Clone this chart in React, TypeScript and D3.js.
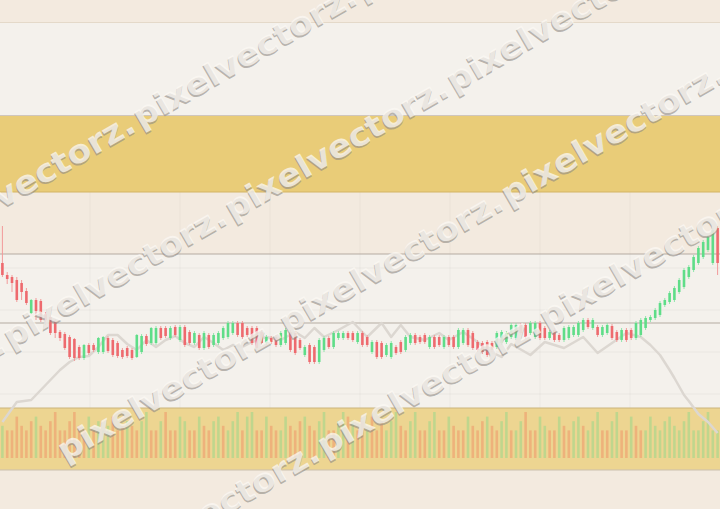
import React from "react";
import * as d3 from "d3";

// ---- candle data (price units) ----
const openP = [
  88.5, 82.5, 81.5, 80, 78.5, 74.5, 63.5, 70, 69.5, 63,
  61.5, 59.5, 54, 53, 51.5, 50.5, 46.5, 41, 47.5, 47.5,
  44, 44, 51, 50, 48.5, 45, 46, 45, 41.5, 44,
  52, 48.5, 48.5, 56, 56, 51, 56.5, 50, 56.5, 54,
  48.5, 52.5, 46, 52.5, 47.5, 48.5, 51, 51.5, 53.5, 58.5,
  58.5, 56, 56, 56, 54, 48.5, 51, 51.5, 47.5, 48.5,
  54, 53.5, 50, 42.5, 47.5, 46.5, 39, 45, 51, 46.5,
  51, 51, 53.5, 53.5, 49, 53.5, 51.5, 44, 49, 48.5,
  42.5, 41.5, 46.5, 49, 45, 48.5, 52.5, 51.5, 52.5, 46.5,
  51.5, 51.5, 46.5, 51.5, 51.5, 46.5, 48.5, 55, 53.5, 49,
  48.5, 49, 48.5, 46.5, 48.5, 49, 51.5, 51, 57.5, 57.5,
  53.5, 51.5, 58.5, 56, 51, 55, 52.5, 50, 51, 52.5,
  52.5, 55, 60, 56, 56.5, 52.5, 53.5, 57, 54, 50,
  55, 55, 51, 52.5, 56, 60, 61, 62.5, 67.5, 69,
  70, 74, 76.5, 81.5, 85, 88.5, 91.5, 95, 88.5, 106,
];
const closeP = [
  82.5, 80.5, 78.5, 70, 74, 68.5, 70, 64.5, 60, 60,
  53.5, 53.5, 51, 46, 41.5, 41, 41, 47.5, 43.5, 45,
  51, 51.5, 44.5, 42.5, 42, 41.5, 42, 41, 52.5, 52,
  48, 56, 56, 51, 52, 56, 52.5, 56.5, 47.5, 48.5,
  53.5, 46, 53.5, 46.5, 52.5, 53.5, 56, 58.5, 58.5, 52.5,
  51.5, 52.5, 48.5, 46, 48.5, 51.5, 49, 47.5, 53.5, 55,
  45, 43.5, 46, 46.5, 39, 39, 50, 51, 46.5, 53.5,
  53.5, 53.5, 51, 50, 53.5, 47.5, 47.5, 49, 41.5, 41.5,
  47.5, 48.5, 43.5, 44, 51.5, 52.5, 48.5, 49, 49, 51.5,
  46.5, 47.5, 51.5, 47.5, 46.5, 55, 55, 47.5, 46, 45,
  44, 42.5, 45, 53.5, 54, 53.5, 57.5, 57.5, 53.5, 51.5,
  58.5, 58.5, 51, 51, 54, 50, 50, 56, 56.5, 56.5,
  58.5, 60, 56.5, 60, 52.5, 56.5, 57.5, 51, 50, 55,
  50, 51, 58.5, 60, 61, 61.5, 65, 68.5, 70, 73.5,
  76, 80, 85, 86.5, 91.5, 96, 99, 101.5, 105, 88.5,
];
const highP = [
  107, 84, 82.5, 81.5, 80, 76, 70.5, 71, 70.5, 64,
  62.5, 60.5, 55, 54, 52.5, 51, 47.5, 48, 48.5, 48.5,
  51.5, 52, 52, 51, 49.5, 46, 47, 46, 53, 53,
  53, 56.5, 57, 57, 57, 57, 57.5, 57.5, 57.5, 55,
  54.5, 53.5, 54.5, 53.5, 53.5, 54.5, 57, 59.5, 59.5, 59.5,
  59.5, 57, 57, 57, 55, 52.5, 52, 52.5, 54.5, 56,
  55, 54.5, 51, 47.5, 48.5, 47.5, 51, 52, 52, 54.5,
  54.5, 54.5, 54.5, 54.5, 54.5, 54.5, 52.5, 50, 50, 49.5,
  48.5, 49.5, 47.5, 50, 52.5, 53.5, 53.5, 52.5, 53.5, 52.5,
  52.5, 52.5, 52.5, 52.5, 52.5, 56, 56, 56, 54.5, 50,
  49.5, 50, 49.5, 54.5, 55, 54.5, 58.5, 58.5, 58.5, 58.5,
  59.5, 59.5, 59.5, 57, 55, 56, 53.5, 57, 57.5, 57.5,
  59.5, 61, 61, 61, 57.5, 57.5, 58.5, 58, 55, 56,
  56, 56, 59.5, 61, 62, 62.5, 66, 69.5, 71, 74.5,
  77, 81, 86, 87.5, 92.5, 97, 100, 102.5, 106, 107,
];
const lowP = [
  81.5, 78, 74, 69, 70, 67.5, 63, 60, 59, 57.5,
  52.5, 51, 49.5, 45, 40.5, 39.5, 40, 40, 42.5, 44,
  43, 43, 43.5, 41.5, 41, 40.5, 41, 40, 41, 43,
  47, 47.5, 47.5, 50, 51, 50, 51.5, 49, 46.5, 47.5,
  47.5, 45, 45, 45.5, 46.5, 47.5, 50, 50.5, 52.5, 51.5,
  50.5, 51.5, 47.5, 45, 47.5, 47.5, 48, 46.5, 46.5, 47.5,
  44, 42.5, 45, 41.5, 38, 38, 38, 44, 45.5, 45.5,
  50, 50, 50, 49, 48, 46.5, 46.5, 43, 40.5, 40.5,
  41.5, 40.5, 42.5, 43, 44, 47.5, 47.5, 48, 48, 45.5,
  45.5, 46.5, 45.5, 46.5, 45.5, 45.5, 47.5, 46.5, 45, 44,
  43, 41.5, 44, 45.5, 47.5, 48, 50.5, 50, 52.5, 50.5,
  52.5, 50.5, 50, 50, 50, 49, 49, 49, 50, 51.5,
  51.5, 54, 55.5, 55, 51.5, 51.5, 52.5, 50, 49, 49,
  49, 50, 50, 51.5, 55, 59, 60, 61.5, 66.5, 68,
  69, 73, 75.5, 80.5, 84, 87.5, 90.5, 94, 87.5, 82.5,
];

// ---- volume ----
const volume = [
  70, 60, 60, 90, 70, 60, 80, 90, 70, 60, 80, 100, 60, 60, 80, 100, 70, 60, 90, 60,
  80, 60, 70, 90, 60, 70, 80, 70, 60, 80, 100, 60, 60, 80, 100, 60, 60, 90, 80, 60,
  60, 90, 70, 60, 80, 90, 70, 60, 80, 100,
  60, 90, 100, 60, 60, 90, 70, 60, 60, 90, 70, 60, 80, 90, 70, 60, 80, 100, 60, 60,
  80, 100, 90, 80, 60, 80, 60, 90, 60, 80, 60, 80, 100, 70, 60, 80, 100, 60, 60, 80,
  100, 60, 60, 90, 70, 60, 60, 90, 70, 60,
  80, 90, 70, 60, 80, 100, 60, 60, 80, 100, 60, 60, 90, 70, 60, 60, 90, 70, 60, 80,
  90, 70, 60, 80, 100, 60, 60, 80, 100, 60, 60, 90, 70, 60, 60, 90, 70, 60, 80, 90,
  70, 60, 80, 100, 60, 60, 80, 100, 60, 60,
];
const volumeUp = [
  1, 0, 0, 0, 0, 0, 0, 1, 0, 0, 0, 0, 0, 0, 0, 0, 0, 0, 1, 0,
  1, 1, 1, 0, 0, 0, 1, 0, 0, 1, 1, 0, 0, 1, 0, 0, 0, 1, 1, 0,
  0, 1, 0, 0, 1, 1, 0, 1, 1, 1,
  0, 1, 1, 0, 0, 1, 0, 0, 1, 1, 0, 0, 0, 1, 0, 0, 1, 1, 0, 0,
  1, 1, 0, 1, 0, 0, 1, 0, 0, 0, 1, 1, 1, 0, 0, 1, 1, 0, 0, 1,
  1, 0, 0, 1, 0, 0, 0, 1, 0, 0,
  0, 1, 0, 0, 1, 1, 0, 1, 1, 0, 0, 0, 1, 1, 0, 0, 1, 0, 0, 1,
  1, 0, 1, 1, 1, 0, 0, 1, 1, 0, 0, 1, 0, 0, 1, 1, 1, 1, 1, 1,
  1, 1, 1, 1, 1, 1, 1, 1, 1, 1,
];

// ---- grey indicator line ----
const lineIdx = [
  0, 3, 6, 9, 12, 14, 16, 18, 20, 22, 24, 26, 28, 30, 32, 34, 36, 38, 40, 42,
  44, 46, 48, 50, 52, 55, 58, 61, 63, 65, 67, 70, 73, 76, 79, 81, 83, 85, 88, 91,
  93, 96, 99, 101, 104, 106, 110, 113, 117, 121, 124, 127, 130, 133, 135, 137, 139, 140, 142, 143,
  145, 147, 149,
];
const lineVal = [
  9, 19, 20, 27.5, 35, 39, 41.5, 42, 46.5, 52.5, 52.5, 48, 45, 50, 46.5, 50, 52, 48.5, 46.5, 51.5,
  48.5, 45, 47.5, 46.5, 49, 51.5, 50, 54, 51, 56, 51.5, 55, 59, 51.5, 58.5, 51.5, 57.5, 51.5, 50, 53.5,
  50, 54, 49, 45, 41.5, 48, 42.5, 49, 46, 51.5, 43.5, 48.5, 53.5, 51.5, 47.5, 42.5, 35, 31, 22.5, 19.5,
  13, 9, 3.5,
];

const gridPrices = [86, 65, 44, 23];
const levelPrices = [93, 58.5];
const watermarkWord = "pixelvectorz.";
const watermarkRows = [197, 342, 487, 632];
const watermarkPhase = [156, 6, 69, 113];
const watermarkFirst = [-2, -2, 0, -2];

export default function App() {
  const W = 720;
  const H = 509;
  const n = openP.length;
  const x = d3.scaleLinear().domain([-0.5, n - 0.5]).range([0, W]);
  const y = d3.scaleLinear().domain([0, 100]).range([440, 240]);
  const vy = d3.scaleLinear().domain([0, 100]).range([458, 412]);
  const idx = d3.range(n);

  const linePath = d3
    .line<number>()
    .x((_, k) => x(lineIdx[k]))
    .y((d) => y(d))(lineVal);

  const plotTop = y(levelPrices[0]);
  const volTop = 408;
  const volBot = 470;
  const bodyW = 2.6;
  const barW = 2.6;
  const period = 256;
  const vGrid = d3.range(1, 8).map((k) => (k * W) / 8);

  return (
    <div style={{ position: "fixed", left: 0, top: 0, width: W, height: H }}>
      <svg width={W} height={H} style={{ display: "block" }} fontFamily="DejaVu Sans, sans-serif">
        <rect x={0} y={0} width={W} height={H} fill="#f3eadf" />
        <rect x={0} y={22} width={W} height={93} fill="#f4f1ec" />
        <rect x={0} y={115} width={W} height={77} fill="#e9cc78" />
        <rect x={0} y={plotTop} width={W} height={volTop - plotTop} fill="#f4f1ec" />
        <rect x={0} y={volTop} width={W} height={volBot - volTop} fill="#edd591" />

        {/* grid */}
        {vGrid.map((gx, k) => (
          <line key={"vg" + k} x1={gx} x2={gx} y1={192} y2={volTop} stroke="#000" strokeOpacity={0.035} />
        ))}
        {gridPrices.map((p, k) => (
          <line key={"hg" + k} x1={0} x2={W} y1={y(p)} y2={y(p)} stroke="#000" strokeOpacity={0.04} />
        ))}

        {/* border lines */}
        <line x1={0} x2={W} y1={22.5} y2={22.5} stroke="#e4d9c9" />
        <line x1={0} x2={W} y1={115.5} y2={115.5} stroke="#cfc6bd" />
        <line x1={0} x2={W} y1={192} y2={192} stroke="#d3b465" />
        {levelPrices.map((p, k) => (
          <line key={"lv" + k} x1={0} x2={W} y1={y(p)} y2={y(p)} stroke="#b4aba1" />
        ))}
        <line x1={0} x2={W} y1={volTop} y2={volTop} stroke="#cbb47c" />
        <line x1={0} x2={W} y1={volBot} y2={volBot} stroke="#cbbfae" />

        {/* volume */}
        {idx.map((i) => (
          <rect
            key={"v" + i}
            x={x(i) - barW / 2}
            y={vy(volume[i])}
            width={barW}
            height={vy(0) - vy(volume[i])}
            fill={volumeUp[i] ? "#bfd68d" : "#eeb27b"}
          />
        ))}

        {/* indicator line */}
        <path d={linePath || ""} fill="none" stroke="#dcd7d1" strokeWidth={2.5} strokeLinejoin="round" />

        {/* candles */}
        {idx.map((i) => {
          const up = closeP[i] >= openP[i];
          const top = y(Math.max(openP[i], closeP[i]));
          const bot = y(Math.min(openP[i], closeP[i]));
          return (
            <g key={"c" + i}>
              <line
                x1={x(i)}
                x2={x(i)}
                y1={y(highP[i])}
                y2={y(lowP[i])}
                stroke={up ? "#8fe6aa" : "#f29a9a"}
                strokeWidth={1}
              />
              <rect
                x={x(i) - bodyW / 2}
                y={top}
                width={bodyW}
                height={Math.max(1, bot - top)}
                fill={up ? "#5fdd88" : "#ee6a6e"}
              />
            </g>
          );
        })}

        {/* watermark */}
        {watermarkRows.map((c, r) => (
          <g key={"wm" + r} transform={`translate(0,${c}) rotate(-30)`}>
            {d3.range(watermarkFirst[r], 6).map((k) => {
              const d = watermarkPhase[r] + k * period;
              return (
                <g key={k}>
                  <text
                    x={d - 1.2}
                    y={12.5}
                    fontSize={32}
                    fontWeight="bold"
                    textLength={period - 3}
                    lengthAdjust="spacingAndGlyphs"
                    fill="#8f8a84"
                    fillOpacity={0.62}
                  >
                    {watermarkWord}
                  </text>
                  <text
                    x={d}
                    y={11}
                    fontSize={32}
                    fontWeight="bold"
                    textLength={period - 3}
                    lengthAdjust="spacingAndGlyphs"
                    fill="#fbf8f3"
                    fillOpacity={0.75}
                  >
                    {watermarkWord}
                  </text>
                </g>
              );
            })}
          </g>
        ))}
      </svg>
    </div>
  );
}
